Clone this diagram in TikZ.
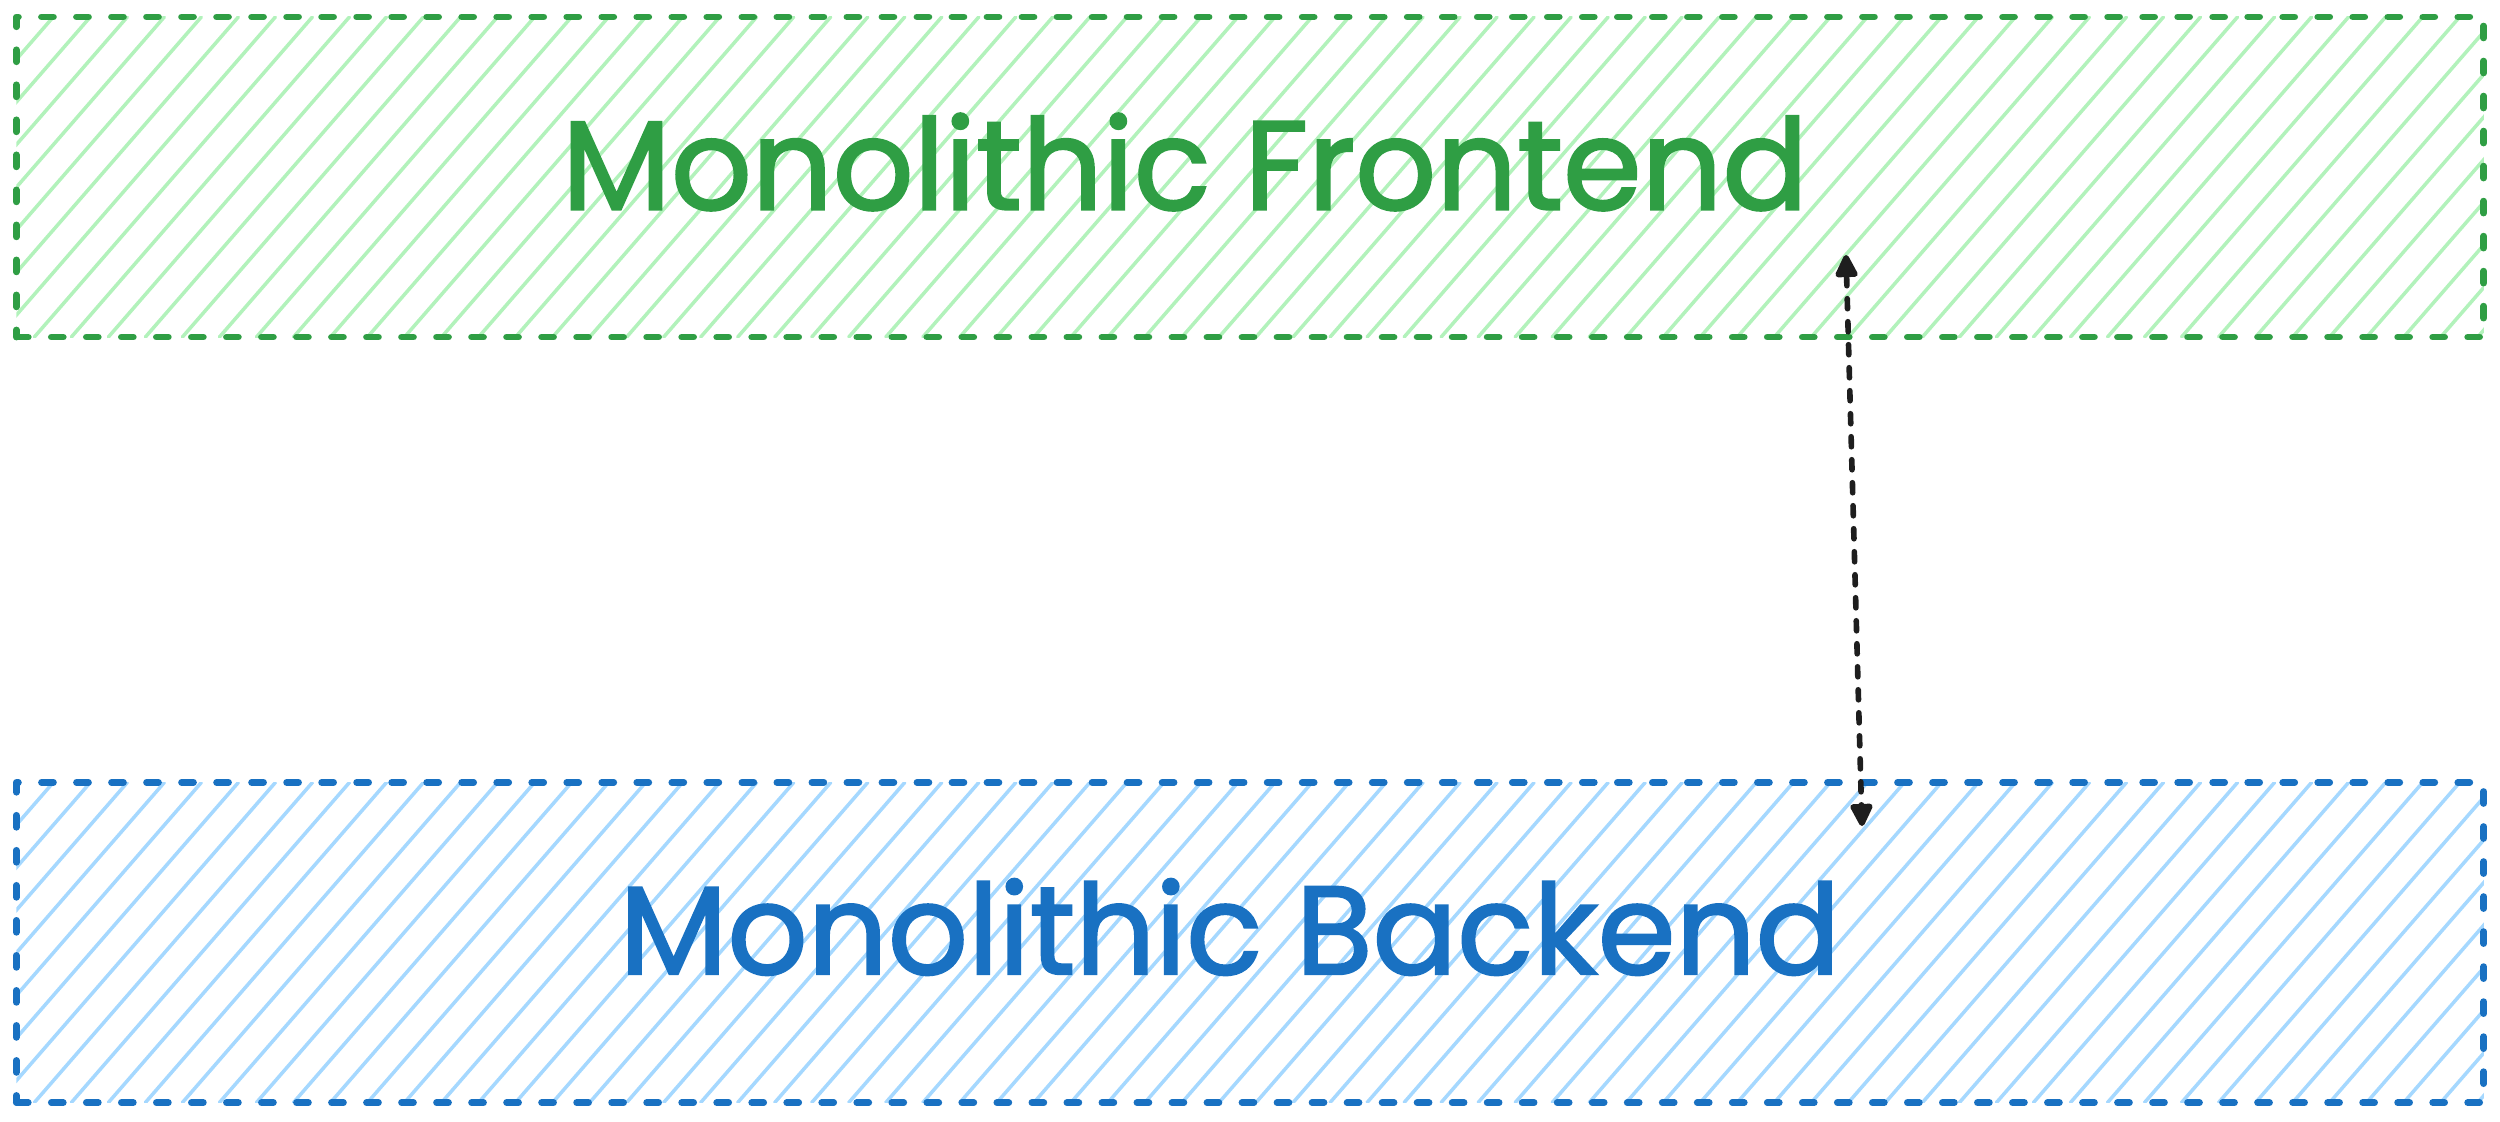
\documentclass[tikz,border=0pt]{standalone}
\usepackage{fontspec}
\setmainfont{Poppins}
\newfontfamily\handfont{Poppins}[FakeBold=1.8]
\usetikzlibrary{arrows.meta}
\definecolor{gstroke}{HTML}{2F9E44}
\definecolor{ghatch}{HTML}{B2F2BB}
\definecolor{bstroke}{HTML}{1971C2}
\definecolor{bhatch}{HTML}{A5D8FF}
\definecolor{ink}{HTML}{1E1E1E}
\tikzset{
  hatchbox/.style 2 args={
    draw=#1, line width=1.9pt, dash pattern=on 0.12cm off 0.23cm, line cap=round, line join=round,
    minimum width=24.66cm, minimum height=3.2cm, inner sep=0pt,
    path picture={
      \foreach \i in {0,...,80}{
        \draw[#2, line width=1pt, solid]
          ([xshift=\i*0.37cm]path picture bounding box.north west) -- ++(-2.78cm,-3.2cm);
      }
    }
  },
  label text/.style={text=#1, inner sep=0pt, font=\handfont},
  link/.style={draw=ink, line width=1.6pt, dash pattern=on 0.1cm off 0.13cm, line cap=round,
    {Triangle[length=0.26cm,width=0.24cm,round]}-{Triangle[length=0.26cm,width=0.24cm,round]}}
}
\begin{document}
\begin{tikzpicture}[x=0.01cm,y=-0.01cm]
\useasboundingbox (0,0) rectangle (2500,1121);
\node[hatchbox={gstroke}{ghatch}] (front) at (1250,177) {};
\node[hatchbox={bstroke}{bhatch}] (back) at (1250,942.5) {};
\node[label text=gstroke] (ftext) at (1185,162) {\resizebox{12.45cm}{!}{\handfont Monolithic Frontend}};
\node[label text=bstroke] (btext) at (1230,927) {\resizebox{12.2cm}{!}{\handfont Monolithic Backend}};
\coordinate (atop) at (1846,255);
\coordinate (abot) at (1862,826);
\draw[link] (atop) -- (abot);
\end{tikzpicture}
\end{document}
